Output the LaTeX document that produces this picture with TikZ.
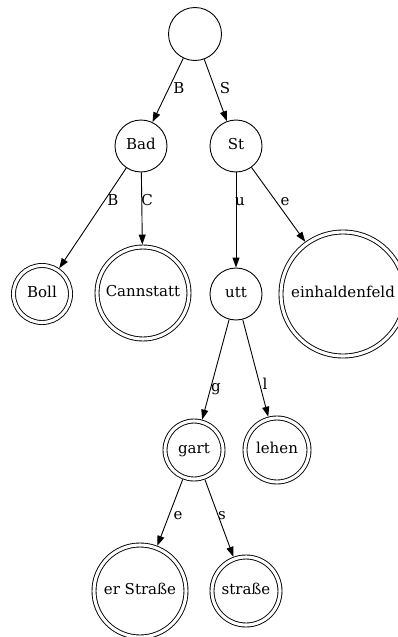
\documentclass[tikz,border=0pt]{standalone}
\usepackage{fontspec}
\setmainfont{DejaVu Serif}
\usetikzlibrary{arrows.meta}
\begin{document}
\begin{tikzpicture}[x=1pt,y=-1pt,
  every node/.style={font=\fontsize{15}{18}\selectfont, text height=11pt, text depth=3.5pt, inner sep=0pt},
  state/.style={draw, circle, line width=0.9pt, minimum size=#1, outer sep=0.45pt},
  final/.style={draw, circle, double, line width=0.9pt, double distance=3.1pt, minimum size=#1, outer sep=2.45pt},
  edge/.style={draw, line width=0.9pt, -{Triangle[length=10pt,width=7pt]}},
  lbl/.style={font=\fontsize{15}{18}\selectfont}]
\useasboundingbox (0,0) rectangle (398,637);
\node[state=53] (root) at (195,34) {};
\node[state=52] (Bad) at (141,146) {Bad};
\node[state=52] (St) at (236,146) {St};
\node[final=57] (Boll) at (42,294) {Boll};
\node[final=92] (Cann) at (143,293) {Cannstatt};
\node[state=52] (utt) at (236,294) {utt};
\node[final=124] (einh) at (343,294) {einhaldenfeld};
\node[final=58] (gart) at (194,450) {gart};
\node[final=64] (lehen) at (277,450) {lehen};
\node[final=92] (erS) at (140,591) {er Straße};
\node[final=68] (str) at (246,591) {straße};

\draw[edge] (root) -- (Bad) node[lbl, at={(179,90)}] {B};
\draw[edge] (root) -- (St) node[lbl, at={(225,90)}] {S};
\draw[edge] (Bad) -- (Boll) node[lbl, at={(113,202)}] {B};
\draw[edge] (Bad) -- (Cann) node[lbl, at={(147,202)}] {C};
\draw[edge] (St) -- (utt) node[lbl, at={(240,202)}] {u};
\draw[edge] (St) -- (einh) node[lbl, at={(285,202)}] {e};
\draw[edge] (utt) -- (gart) node[lbl, at={(216,388)}] {g};
\draw[edge] (utt) -- (lehen) node[lbl, at={(265,386)}] {l};
\draw[edge] (gart) -- (erS) node[lbl, at={(178,516)}] {e};
\draw[edge] (gart) -- (str) node[lbl, at={(222,516)}] {s};
\end{tikzpicture}
\end{document}
